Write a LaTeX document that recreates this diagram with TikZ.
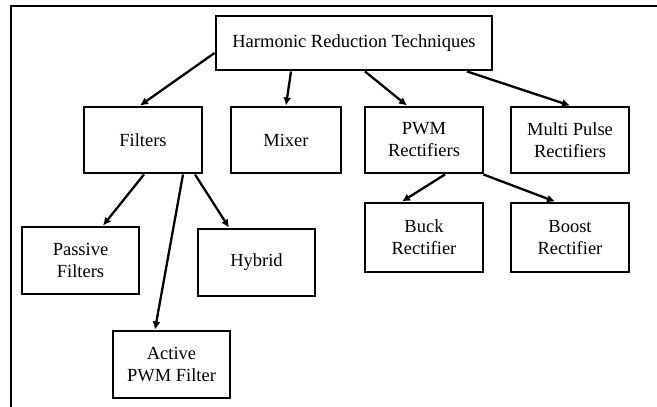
\documentclass[tikz,border=0pt]{standalone}
\usepackage{fontspec}
\setmainfont{Liberation Serif}
\usetikzlibrary{arrows.meta}
\begin{document}
\begin{tikzpicture}[x=1pt,y=-1pt,
  box/.style={draw,line width=2.9pt,align=center,inner sep=0pt,
    font=\fontsize{18.5}{22}\selectfont},
  arr/.style={line width=2.3pt,-{Latex[length=8pt,width=8pt]}}]
\useasboundingbox (0,0) rectangle (657,407);
\draw[line width=1.1pt] (11,407) -- (11,6) -- (657,6);
\node[box,minimum width=276pt,minimum height=54pt] (H) at (354,43) {\raisebox{3pt}{Harmonic Reduction Techniques}};
\node[box,minimum width=118pt,minimum height=66pt] (F) at (143,140) {Filters};
\node[box,minimum width=110pt,minimum height=66pt] (M) at (286,140) {Mixer};
\node[box,minimum width=118pt,minimum height=66pt] (P) at (424,140) {PWM\\Rectifiers};
\node[box,minimum width=118pt,minimum height=66pt] (MP) at (570,140) {Multi Pulse\\Rectifiers};
\node[box,minimum width=117pt,minimum height=67pt] (Pa) at (80.5,260.5) {Passive\\Filters};
\node[box,minimum width=117pt,minimum height=67pt] (Hy) at (256.5,262.5) {Hybrid};
\node[box,minimum width=117pt,minimum height=67pt] (A) at (171.5,364.5) {Active\\PWM Filter};
\node[box,minimum width=118pt,minimum height=69pt] (B) at (424,237.5) {Buck\\Rectifier};
\node[box,minimum width=118pt,minimum height=69pt] (Bo) at (570,237.5) {Boost\\Rectifier};
\draw[arr] ([yshift=-10pt]H.west) -- ([xshift=-3pt]F.north);
\draw[arr] ([xshift=-63pt]H.south) -- (M.north);
\draw[arr] ([xshift=11pt]H.south) -- ([xshift=-17pt]P.north);
\draw[arr] ([xshift=113pt]H.south) -- (MP.north);
\draw[arr] ([xshift=1pt]F.south) -- ([xshift=22.5pt]Pa.north);
\draw[arr] ([xshift=40pt]F.south) -- ([xshift=-16.5pt]A.north);
\draw[arr] ([xshift=52pt]F.south) -- ([xshift=-27.5pt]Hy.north);
\draw[arr] ([xshift=21pt]P.south) -- ([xshift=-22pt]B.north);
\draw[arr] ([xshift=-1pt]P.south east) -- ([xshift=-15pt]Bo.north);
\end{tikzpicture}
\end{document}
